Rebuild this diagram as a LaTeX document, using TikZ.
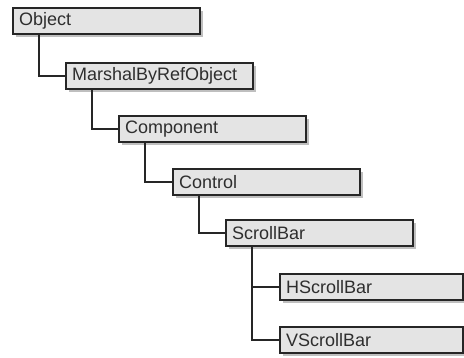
\documentclass[tikz,border=0pt]{standalone}
\usepackage{fontspec}
\setmainfont{Liberation Sans}
\usetikzlibrary{shadows}
\definecolor{boxfill}{HTML}{E4E4E4}
\definecolor{boxline}{HTML}{262626}
\definecolor{txt}{HTML}{2E2E2E}
\tikzset{
  cls/.style={draw=boxline, line width=2.4pt, fill=boxfill, anchor=north west,
    text width=175pt, inner xsep=6pt, inner ysep=0pt, minimum height=26pt,
    align=left, text=txt, font=\fontsize{18}{20}\selectfont,
    drop shadow={shadow xshift=2.5pt, shadow yshift=-2.5pt, fill=black!25, opacity=1}},
  narrow/.style={text width=171pt},
  link/.style={draw=boxline, line width=2.4pt}
}
\begin{document}
\begin{tikzpicture}[x=1pt,y=1pt]
\useasboundingbox (0,0) rectangle (464,358);
\node[cls] (obj)  at (12,351) {Object};
\node[cls] (mbr)  at (65,296) {MarshalByRefObject};
\node[cls] (comp) at (118,243) {Component};
\node[cls] (ctl)  at (172,190) {Control};
\node[cls] (sb)   at (225,139) {ScrollBar};
\node[cls,narrow] (hsb)  at (279,85) {HScrollBar};
\node[cls,narrow] (vsb)  at (279,32) {VScrollBar};
\draw[link] ([xshift=27pt]obj.south west) |- (mbr.west);
\draw[link] ([xshift=27pt]mbr.south west) |- (comp.west);
\draw[link] ([xshift=27pt]comp.south west) |- (ctl.west);
\draw[link] ([xshift=27pt]ctl.south west) |- (sb.west);
\draw[link] ([xshift=27pt]sb.south west) |- (vsb.west);
\coordinate (hj) at ([xshift=27pt]sb.south west |- hsb.west);
\draw[link] (hj) -- (hsb.west);
\end{tikzpicture}
\end{document}
